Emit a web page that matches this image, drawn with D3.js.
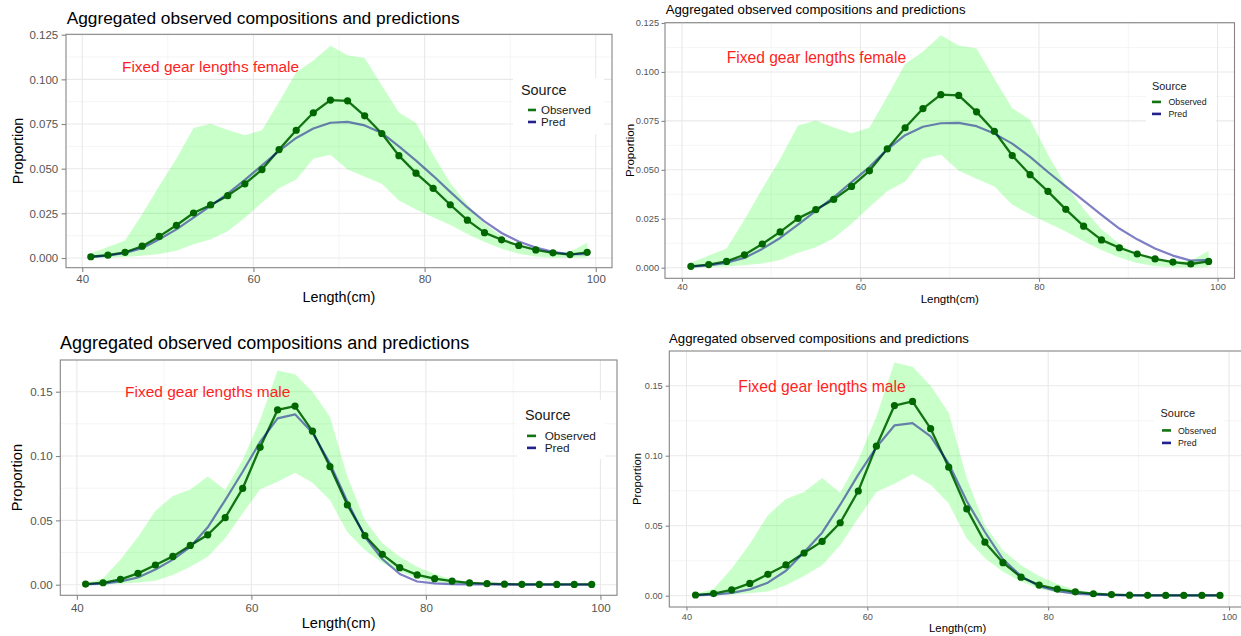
<!DOCTYPE html>
<html>
<head>
<meta charset="utf-8">
<script src="https://cdn.jsdelivr.net/npm/d3@7"></script>
<style>
  html, body { margin: 0; padding: 0; background: #ffffff; }
  svg { display: block; font-family: "Liberation Sans", Arial, Helvetica, sans-serif; }
</style>
</head>
<body>
<svg id="chart" width="1241" height="636"></svg>
<script>
// Length bins (cm)
const lengths = [41, 43, 45, 47, 49, 51, 53, 55, 57, 59, 61, 63, 65, 67, 69,
                 71, 73, 75, 77, 79, 81, 83, 85, 87, 89, 91, 93, 95, 97, 99];

// Fixed gear, females
const femaleObserved = [0.0007, 0.0016, 0.0032, 0.0066, 0.0121, 0.0183, 0.0252, 0.0297, 0.0349, 0.0415,
                        0.0495, 0.0607, 0.0715, 0.0813, 0.0884, 0.0880, 0.0796, 0.0697, 0.0573, 0.0475,
                        0.0390, 0.0298, 0.0212, 0.0142, 0.0102, 0.0070, 0.0045, 0.0029, 0.0019, 0.0032];
const femaleLower = [0.0000, 0.0003, 0.0006, 0.0012, 0.0022, 0.0040, 0.0077, 0.0105, 0.0150, 0.0225,
                     0.0310, 0.0390, 0.0440, 0.0555, 0.0578, 0.0495, 0.0455, 0.0415, 0.0322, 0.0272,
                     0.0228, 0.0185, 0.0135, 0.0090, 0.0052, 0.0024, 0.0008, 0.0002, 0.0001, 0.0004];
const femaleUpper = [0.0025, 0.0062, 0.0098, 0.0245, 0.0405, 0.0555, 0.0727, 0.0752, 0.0716, 0.0687,
                     0.0715, 0.0875, 0.1040, 0.1105, 0.1188, 0.1135, 0.1120, 0.0965, 0.0815, 0.0756,
                     0.0578, 0.0420, 0.0300, 0.0195, 0.0122, 0.0066, 0.0040, 0.0030, 0.0035, 0.0086];
const femalePredA = [0.0006, 0.0013, 0.0028, 0.0055, 0.0105, 0.0160, 0.0226, 0.0292, 0.0360, 0.0437,
                     0.0518, 0.0600, 0.0672, 0.0725, 0.0757, 0.0762, 0.0742, 0.0700, 0.0625, 0.0545,
                     0.0460, 0.0370, 0.0283, 0.0205, 0.0140, 0.0092, 0.0058, 0.0035, 0.0021, 0.0022];
const femalePredB = [0.0006, 0.0012, 0.0025, 0.0050, 0.0096, 0.0152, 0.0220, 0.0290, 0.0360, 0.0437,
                     0.0514, 0.0605, 0.0677, 0.0720, 0.0738, 0.0740, 0.0723, 0.0685, 0.0634, 0.0566,
                     0.0489, 0.0415, 0.0343, 0.0270, 0.0200, 0.0145, 0.0098, 0.0062, 0.0036, 0.0040];

// Fixed gear, males
const maleObserved = [0.0005, 0.0015, 0.0042, 0.0088, 0.0153, 0.0220, 0.0305, 0.0388, 0.0521, 0.0748,
                      0.1068, 0.1358, 0.1388, 0.1193, 0.0918, 0.0620, 0.0382, 0.0236, 0.0132, 0.0076,
                      0.0047, 0.0028, 0.0014, 0.0008, 0.0004, 0.0003, 0.0002, 0.0002, 0.0002, 0.0002];
const maleLower = [0.0000, 0.0002, 0.0008, 0.0018, 0.0030, 0.0075, 0.0140, 0.0218, 0.0361, 0.0555,
                   0.0741, 0.0800, 0.0870, 0.0793, 0.0658, 0.0407, 0.0270, 0.0171, 0.0101, 0.0050,
                   0.0023, 0.0010, 0.0003, 0.0001, 0.0001, 0.0001, 0.0001, 0.0001, 0.0001, 0.0001];
const maleUpper = [0.0012, 0.0050, 0.0195, 0.0370, 0.0575, 0.0690, 0.0740, 0.0840, 0.0736, 0.0969,
                   0.1280, 0.1665, 0.1635, 0.1500, 0.1306, 0.0839, 0.0503, 0.0322, 0.0218, 0.0140,
                   0.0083, 0.0042, 0.0021, 0.0010, 0.0006, 0.0004, 0.0004, 0.0004, 0.0004, 0.0004];
const malePredA = [0.0003, 0.0009, 0.0026, 0.0056, 0.0118, 0.0195, 0.0295, 0.0446, 0.0658, 0.0878,
                   0.1110, 0.1293, 0.1324, 0.1181, 0.0943, 0.0645, 0.0373, 0.0200, 0.0083, 0.0025,
                   0.0010, 0.0005, 0.0003, 0.0002, 0.0001, 0.0001, 0.0001, 0.0001, 0.0001, 0.0001];
const malePredB = [0.0002, 0.0007, 0.0020, 0.0045, 0.0093, 0.0178, 0.0310, 0.0450, 0.0650, 0.0865,
                   0.1060, 0.1216, 0.1233, 0.1138, 0.0943, 0.0675, 0.0455, 0.0260, 0.0140, 0.0068,
                   0.0032, 0.0015, 0.0007, 0.0004, 0.0003, 0.0002, 0.0002, 0.0002, 0.0002, 0.0002];

// Axis breaks
const xTicks = [40, 60, 80, 100];
const xMinorTicks = [50, 70, 90];
const femaleYTicks = [0, 0.025, 0.05, 0.075, 0.1, 0.125];
const femaleYMinor = [0.0125, 0.0375, 0.0625, 0.0875, 0.1125];
const maleYTicks = [0, 0.05, 0.1, 0.15];
const maleYMinor = [0.025, 0.075, 0.125];

// Text
const plotTitle = "Aggregated observed compositions and predictions";
const xTitle = "Length(cm)";
const yTitle = "Proportion";
const legendTitle = "Source";
const seriesNames = ["Observed", "Pred"];
const femaleLabel = "Fixed gear lengths female";
const maleLabel = "Fixed gear lengths male";

const xDomain = [38.1, 101.9];

const colors = {
  ribbon: "#00ff00",
  obsLine: "#117311",
  obsPoint: "#006600",
  pred: "#00008b",
  predKey: "#22228c",
  grid: "#e9e9e9",
  gridMinor: "#f3f3f3",
  border: "#858585",
  tickText: "#555555",
  text: "#1a1a1a",
  annotation: "#ff1f1f"
};

const panels = [
  { obs: femaleObserved, pred: femalePredA, lo: femaleLower, hi: femaleUpper,
    yTicks: femaleYTicks, yMinor: femaleYMinor, yFmt: ".3f", label: femaleLabel,
    left: 66, right: 612, top: 34.3, bottom: 267.7, yDomain: [-0.00543, 0.12522],
    titleX: 66.7, titleY: 24, titleSize: 17.3,
    tickFont: 11.5, tickLen: 4.4, yLabGap: 3.4, xLabBase: 283,
    axisTitleSize: 14.4, xTitleBase: 302, yTitleX: 17.8,
    annX: 122, annY: 72, annSize: 15.4,
    leg: { box: [513, 78, 604, 134], titleX: 521, titleY: 95, titleSize: 14.4,
           keyX: [528, 536], textX: 541, rows: [114, 126], textSize: 11.5 } },
  { obs: femaleObserved, pred: femalePredB, lo: femaleLower, hi: femaleUpper,
    yTicks: femaleYTicks, yMinor: femaleYMinor, yFmt: ".3f", label: femaleLabel,
    left: 665, right: 1234.5, top: 22.7, bottom: 278.3, yDomain: [-0.00541, 0.12515],
    titleX: 665.7, titleY: 14, titleSize: 13.2,
    tickFont: 9.3, tickLen: 3.5, yLabGap: 2.4, xLabBase: 290,
    axisTitleSize: 11.5, xTitleBase: 303, yTitleX: 630,
    annX: 726.7, annY: 63.3, annSize: 15.6,
    leg: { box: [1146, 74, 1216, 122], titleX: 1152, titleY: 90, titleSize: 10.9,
           keyX: [1152, 1161], textX: 1168.5, rows: [105, 117], textSize: 8.8 } },
  { obs: maleObserved, pred: malePredA, lo: maleLower, hi: maleUpper,
    yTicks: maleYTicks, yMinor: maleYMinor, yFmt: ".2f", label: maleLabel,
    left: 60.3, right: 617, top: 360, bottom: 595.3, yDomain: [-0.00824, 0.17464],
    titleX: 60, titleY: 349, titleSize: 18,
    tickFont: 11.6, tickLen: 4.4, yLabGap: 3.2, xLabBase: 611.7,
    axisTitleSize: 14.6, xTitleBase: 628, yTitleX: 17.3,
    annX: 125, annY: 396.7, annSize: 15.5,
    leg: { box: [517, 400, 605, 459], titleX: 525, titleY: 420, titleSize: 14.4,
           keyX: [527, 536], textX: 544.7, rows: [440, 452], textSize: 11.8 } },
  { obs: maleObserved, pred: malePredB, lo: maleLower, hi: maleUpper,
    yTicks: maleYTicks, yMinor: maleYMinor, yFmt: ".2f", label: maleLabel,
    left: 669.3, right: 1246.2, top: 351, bottom: 607, yDomain: [-0.00807, 0.17479],
    titleX: 669, titleY: 342.7, titleSize: 13.2,
    tickFont: 9.2, tickLen: 3.6, yLabGap: 3, xLabBase: 620,
    axisTitleSize: 11.3, xTitleBase: 632, yTitleX: 637.3,
    annX: 738.3, annY: 391.7, annSize: 15.7,
    leg: { box: [1154, 398, 1224, 452], titleX: 1160.6, titleY: 417, titleSize: 10.9,
           keyX: [1162, 1171], textX: 1178, rows: [433.5, 446], textSize: 8.8 } }
];

const svg = d3.select("#chart");

function drawPanel(p, idx) {
  const x = d3.scaleLinear().domain(xDomain).range([p.left, p.right]);
  const y = d3.scaleLinear().domain(p.yDomain).range([p.bottom, p.top]);
  const g = svg.append("g").attr("class", "panel panel-" + idx);

  const clipId = "clip-" + idx;
  g.append("clipPath").attr("id", clipId)
    .append("rect")
    .attr("x", p.left).attr("y", p.top)
    .attr("width", p.right - p.left).attr("height", p.bottom - p.top);

  const body = g.append("g").attr("clip-path", "url(#" + clipId + ")");

  // Grid: minor first, then major
  body.selectAll(".gx-minor").data(xMinorTicks).join("line")
    .attr("x1", d => x(d)).attr("x2", d => x(d))
    .attr("y1", p.top).attr("y2", p.bottom)
    .attr("stroke", colors.gridMinor).attr("stroke-width", 0.8);
  body.selectAll(".gy-minor").data(p.yMinor).join("line")
    .attr("x1", p.left).attr("x2", p.right)
    .attr("y1", d => y(d)).attr("y2", d => y(d))
    .attr("stroke", colors.gridMinor).attr("stroke-width", 0.8);
  body.selectAll(".gx").data(xTicks).join("line")
    .attr("x1", d => x(d)).attr("x2", d => x(d))
    .attr("y1", p.top).attr("y2", p.bottom)
    .attr("stroke", colors.grid).attr("stroke-width", 1.1);
  body.selectAll(".gy").data(p.yTicks).join("line")
    .attr("x1", p.left).attr("x2", p.right)
    .attr("y1", d => y(d)).attr("y2", d => y(d))
    .attr("stroke", colors.grid).attr("stroke-width", 1.1);

  const rows = lengths.map((len, i) => ({
    len, obs: p.obs[i], pred: p.pred[i], lo: p.lo[i], hi: p.hi[i]
  }));

  // Uncertainty band
  body.append("path")
    .datum(rows)
    .attr("d", d3.area().x(d => x(d.len)).y0(d => y(d.lo)).y1(d => y(d.hi)))
    .attr("fill", colors.ribbon).attr("fill-opacity", 0.21);

  // Observed line
  body.append("path")
    .datum(rows)
    .attr("d", d3.line().x(d => x(d.len)).y(d => y(d.obs)))
    .attr("fill", "none").attr("stroke", colors.obsLine)
    .attr("stroke-width", 2.3).attr("stroke-linejoin", "round");

  // Predicted line
  body.append("path")
    .datum(rows)
    .attr("d", d3.line().x(d => x(d.len)).y(d => y(d.pred)))
    .attr("fill", "none").attr("stroke", colors.pred).attr("stroke-opacity", 0.5)
    .attr("stroke-width", 2.2).attr("stroke-linejoin", "round");

  // Observed points
  body.selectAll(".pt").data(rows).join("circle")
    .attr("cx", d => x(d.len)).attr("cy", d => y(d.obs)).attr("r", 3.6)
    .attr("fill", colors.obsPoint);

  // Annotation
  g.append("text")
    .attr("x", p.annX).attr("y", p.annY)
    .attr("font-size", p.annSize).attr("fill", colors.annotation)
    .text(p.label);

  // Legend (inside the panel, white background)
  const L = p.leg;
  const lg = g.append("g").attr("clip-path", "url(#" + clipId + ")");
  lg.append("rect")
    .attr("x", L.box[0]).attr("y", L.box[1])
    .attr("width", L.box[2] - L.box[0]).attr("height", L.box[3] - L.box[1])
    .attr("fill", "#ffffff");
  g.append("text")
    .attr("x", L.titleX).attr("y", L.titleY)
    .attr("font-size", L.titleSize).attr("fill", colors.text)
    .text(legendTitle);
  const keyColors = [colors.obsLine, colors.predKey];
  seriesNames.forEach((name, i) => {
    const cy = L.rows[i] - 0.35 * L.textSize;
    g.append("line")
      .attr("x1", L.keyX[0]).attr("x2", L.keyX[1])
      .attr("y1", cy).attr("y2", cy)
      .attr("stroke", keyColors[i]).attr("stroke-width", 2.6);
    g.append("text")
      .attr("x", L.textX).attr("y", L.rows[i])
      .attr("font-size", L.textSize).attr("fill", colors.text)
      .text(name);
  });

  // Panel border
  g.append("rect")
    .attr("x", p.left).attr("y", p.top)
    .attr("width", p.right - p.left).attr("height", p.bottom - p.top)
    .attr("fill", "none").attr("stroke", colors.border).attr("stroke-width", 1.1);

  // Axes
  const yAxis = g.append("g")
    .attr("transform", `translate(${p.left},0)`)
    .call(d3.axisLeft(y).tickValues(p.yTicks).tickFormat(d3.format(p.yFmt))
      .tickSize(p.tickLen).tickPadding(p.yLabGap));
  const xAxis = g.append("g")
    .attr("transform", `translate(0,${p.bottom})`)
    .call(d3.axisBottom(x).tickValues(xTicks).tickFormat(d3.format("d"))
      .tickSize(p.tickLen).tickPadding(0));
  [yAxis, xAxis].forEach(ax => {
    ax.select(".domain").remove();
    ax.selectAll(".tick line").attr("stroke", colors.border).attr("stroke-width", 1.1);
    ax.selectAll(".tick text")
      .attr("fill", colors.tickText)
      .attr("font-size", p.tickFont)
      .attr("font-family", "'Liberation Sans', Arial, Helvetica, sans-serif");
  });
  xAxis.selectAll(".tick text").attr("dy", null).attr("y", p.xLabBase - p.bottom);

  // Titles
  g.append("text")
    .attr("x", p.titleX).attr("y", p.titleY)
    .attr("font-size", p.titleSize).attr("fill", "#000000")
    .text(plotTitle);
  g.append("text")
    .attr("x", (p.left + Math.min(p.right, 1246)) / 2).attr("y", p.xTitleBase)
    .attr("text-anchor", "middle")
    .attr("font-size", p.axisTitleSize).attr("fill", "#000000")
    .text(xTitle);
  g.append("text")
    .attr("transform", `translate(${p.yTitleX},${(p.top + p.bottom) / 2}) rotate(-90)`)
    .attr("text-anchor", "middle").attr("dy", "0.35em")
    .attr("font-size", p.axisTitleSize).attr("fill", "#000000")
    .text(yTitle);
}

panels.forEach(drawPanel);
</script>
</body>
</html>
